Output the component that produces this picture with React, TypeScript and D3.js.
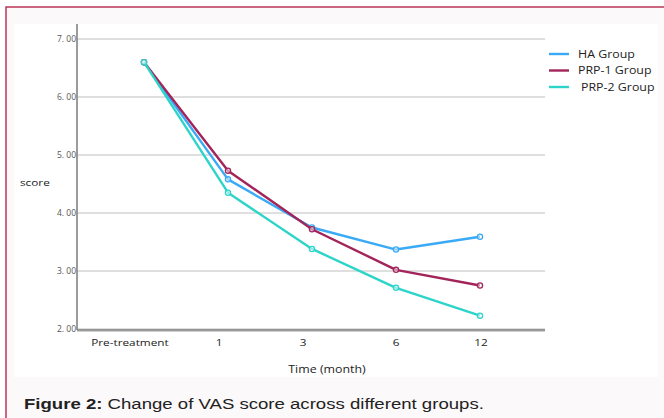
import React from "react";
import * as d3 from "d3";

const categories = ["Pre-treatment", "1", "3", "6", "12"];
const haGroup = [6.6, 4.58, 3.75, 3.37, 3.59];
const prp1Group = [6.6, 4.73, 3.72, 3.02, 2.75];
const prp2Group = [6.6, 4.35, 3.38, 2.71, 2.23];
const seriesNames = ["HA Group", "PRP-1 Group", "PRP-2 Group"];
const seriesColors = ["#3aaaf6", "#a3245a", "#2dd4c9"];
const yTicks = [2, 3, 4, 5, 6, 7];

export default function App() {
  const W = 664, H = 418;
  const plotL = 77, plotR = 545, plotT = 39, plotB = 329;
  const x = d3.scalePoint<string>().domain(categories).range([144, 480]);
  const y = d3.scaleLinear().domain([2, 7]).range([plotB, plotT]);
  const allSeries = [haGroup, prp1Group, prp2Group];
  const line = d3.line<number>().x((_, i) => x(categories[i])!).y((d) => y(d));
  const font = "'Open Sans', 'DejaVu Sans', sans-serif";
  const labelDx = [-14, -9, -9, 0, 1];
  const sx = 1.24;

  return (
    <svg width={W} height={H} style={{ position: "absolute", left: 0, top: 0 }}>
      <rect x={0} y={0} width={W} height={H} fill="#ffffff" />
      <rect x={6} y={7} width={W} height={H} fill="#fcf9fa" stroke="#b0173f" strokeWidth={1.3} />
      <rect x={14} y={24} width={644} height={353} fill="#ffffff" />
      {yTicks.map((t) => (
        <g key={t}>
          <line x1={plotL} x2={plotR} y1={y(t)} y2={y(t)} stroke="#d4d4d4" strokeWidth={1.5} />
          <text x={plotL - 1} y={y(t) + 3} textAnchor="end" fontSize={8.5} fill="#555" fontFamily={font}>
            {t.toFixed(2).replace(".", ". ")}
          </text>
        </g>
      ))}
      <line x1={plotL} x2={plotL} y1={24} y2={plotB + 1} stroke="#7a7a7a" strokeWidth={1.5} />
      <line x1={plotL} x2={plotR} y1={plotB + 1} y2={plotB + 1} stroke="#7a7a7a" strokeWidth={1.5} />
      <line x1={plotL} x2={plotR} y1={plotB + 2.5} y2={plotB + 2.5} stroke="#cfcfcf" strokeWidth={1} />
      <text transform={`translate(20,186) scale(${sx},1)`} fontSize={9.5} fill="#222" fontFamily={font}>score</text>
      {categories.map((c, i) => (
        <text key={c} transform={`translate(${x(c)! + labelDx[i]},346) scale(${sx},1)`} textAnchor="middle" fontSize={9.5} fill="#222" fontFamily={font}>
          {c}
        </text>
      ))}
      <text transform={`translate(327,373) scale(${sx},1)`} textAnchor="middle" fontSize={10} fill="#222" fontFamily={font}>Time (month)</text>
      {allSeries.map((s, k) => (
        <g key={k}>
          <path d={line(s)!} fill="none" stroke={seriesColors[k]} strokeWidth={2.4} strokeLinejoin="round" />
          {s.map((v, i) => (
            <circle key={i} cx={x(categories[i])!} cy={y(v)} r={2.6} fill="#ffffff" fillOpacity={0.5} stroke={seriesColors[k]} strokeWidth={1.3} />
          ))}
        </g>
      ))}
      {seriesNames.map((n, k) => (
        <g key={n}>
          <line x1={549} x2={569} y1={54 + k * 16.5} y2={54 + k * 16.5} stroke={seriesColors[k]} strokeWidth={2.4} />
          <text transform={`translate(${578 + (k === 2 ? 3 : 0)},${57.5 + k * 16.5}) scale(${sx},1)`} fontSize={10} fill="#222" fontFamily={font}>{n}</text>
        </g>
      ))}
      <text transform={`translate(24,409) scale(${sx},1)`} fontSize={15} fill="#222" fontFamily="'Liberation Sans', Arial, sans-serif">
        <tspan fontWeight="bold">Figure 2:</tspan> Change of VAS score across different groups.
      </text>
    </svg>
  );
}
